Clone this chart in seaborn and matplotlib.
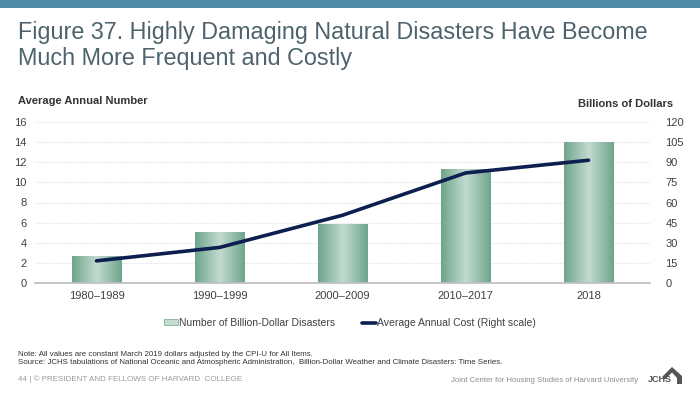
import numpy as np
import seaborn as sns
import matplotlib.pyplot as plt
from matplotlib.patches import Patch, Polygon
from matplotlib.lines import Line2D
from matplotlib.colors import LinearSegmentedColormap

# Data
periods = ['1980\u20131989', '1990\u20131999', '2000\u20132009', '2010\u20132017', '2018']
num_disasters = [2.7, 5.1, 5.9, 11.3, 14.0]
avg_cost = [16.5, 26.5, 50.5, 82.0, 91.5]
left_ticks = [0, 2, 4, 6, 8, 10, 12, 14, 16]
right_ticks = [0, 15, 30, 45, 60, 75, 90, 105, 120]

sns.set_theme(style='white')
plt.rcParams['font.family'] = ['Liberation Sans', 'DejaVu Sans']

bar_dark = '#6fa58d'
bar_light = '#c2dccf'
line_col = '#0d1f4f'
txt = '#404040'

fig = plt.figure(figsize=(7, 3.94), dpi=100)
fig.patch.set_facecolor('white')

# top band
fig.add_artist(plt.Rectangle((0, 1 - 8 / 394), 1, 8 / 394, transform=fig.transFigure,
                             color='#4f8aa7', lw=0))

fig.text(18 / 700, 1 - 33 / 394, 'Figure 37. Highly Damaging Natural Disasters Have Become',
         fontsize=16.8, color='#4d626c', va='center', ha='left')
fig.text(18 / 700, 1 - 59 / 394, 'Much More Frequent and Costly',
         fontsize=16.8, color='#4d626c', va='center', ha='left')

ax = fig.add_axes([35 / 700, 1 - 283 / 394, 615 / 700, 161 / 394])
sns.barplot(x=periods, y=num_disasters, ax=ax, color=bar_dark, width=0.4,
            saturation=1, edgecolor='none')

# horizontal gradient inside bars
cmap = LinearSegmentedColormap.from_list('g', [bar_dark, bar_light, bar_dark])
grad = np.linspace(0, 1, 64).reshape(1, -1)
for p in ax.patches:
    x0, y0 = p.get_x(), p.get_y()
    w, h = p.get_width(), p.get_height()
    im = ax.imshow(grad, cmap=cmap, aspect='auto', extent=[x0, x0 + w, y0, y0 + h],
                   zorder=p.get_zorder())
    im.set_clip_path(p)

ax.set_xlim(-0.5, len(periods) - 0.5)
ax.set_ylim(0, 16)
ax.set_yticks(left_ticks)
ax.yaxis.grid(True, color='#e2e2e2', linestyle=(0, (1, 1)), lw=0.8)
ax.set_axisbelow(True)
for s in ['top', 'left', 'right']:
    ax.spines[s].set_visible(False)
ax.spines['bottom'].set_color('#bfbfbf')
ax.tick_params(axis='y', labelsize=8, colors=txt, length=0, pad=6)
ax.tick_params(axis='x', labelsize=8, colors=txt, length=0, pad=6)
ax.set_xticks(np.arange(len(periods) + 1) - 0.5, minor=True)
ax.tick_params(axis='x', which='minor', length=4, color='#bfbfbf', direction='out')
ax.set_xlabel('')
ax.set_ylabel('')

ax2 = ax.twinx()
sns.pointplot(x=periods, y=avg_cost, ax=ax2, color=line_col, markers='',
              linestyles='-', errorbar=None, linewidth=2.6)
ax2.set_xlim(-0.5, len(periods) - 0.5)
ax2.set_ylim(0, 120)
ax2.set_yticks(right_ticks)
for s in ['top', 'left', 'right', 'bottom']:
    ax2.spines[s].set_visible(False)
ax2.tick_params(axis='y', labelsize=8, colors=txt, length=0, pad=11)
ax2.set_ylabel('')
ax2.set_xlabel('')

fig.text(18 / 700, 1 - 101 / 394, 'Average Annual Number', fontsize=8, fontweight='bold',
         color='#333333', va='center', ha='left')
fig.text(673 / 700, 1 - 104 / 394, 'Billions of Dollars', fontsize=8, fontweight='bold',
         color='#333333', va='center', ha='right')

handles = [Patch(facecolor=bar_light, edgecolor=bar_dark, lw=0.5),
           Line2D([0], [0], color=line_col, lw=2.6)]
fig.legend(handles, ['Number of Billion-Dollar Disasters', 'Average Annual Cost (Right scale)'],
           loc='center', bbox_to_anchor=(350 / 700, 1 - 323 / 394), ncol=2, frameon=False,
           fontsize=7.5, handlelength=1.3, handleheight=0.5, handletextpad=0.1,
           columnspacing=2.6, labelcolor=txt)

fig.text(18 / 700, 1 - 354 / 394,
         'Note: All values are constant March 2019 dollars adjusted by the CPI-U for All Items.',
         fontsize=5.7, color='#333333', va='center')
fig.text(18 / 700, 1 - 363 / 394,
         'Source: JCHS tabulations of National Oceanic and Atmospheric Administration,  '
         'Billion-Dollar Weather and Climate Disasters: Time Series.',
         fontsize=5.7, color='#333333', va='center')
fig.text(18 / 700, 1 - 379 / 394, '44 | \u00a9 PRESIDENT AND FELLOWS OF HARVARD  COLLEGE',
         fontsize=5.8, color='#9a9a9a', va='center')
fig.text(638 / 700, 1 - 380 / 394, 'Joint Center for Housing Studies of Harvard University',
         fontsize=5.6, color='#8c8c8c', va='center', ha='right')

# JCHS mark: roof and right wall over the letters
house = [(662, 377), (672, 367), (682, 376), (682, 384), (677, 384), (677, 378),
         (672, 372.5), (665, 379.5)]
fig.add_artist(Polygon([(x / 700, 1 - y / 394) for x, y in house], closed=True,
                       transform=fig.transFigure, color='#555555', lw=0))
fig.text(648 / 700, 1 - 380 / 394, 'JCHS', fontsize=6.5, fontweight='bold',
         color='#555555', va='center', ha='left')

fig.savefig('out.png', dpi=100)
